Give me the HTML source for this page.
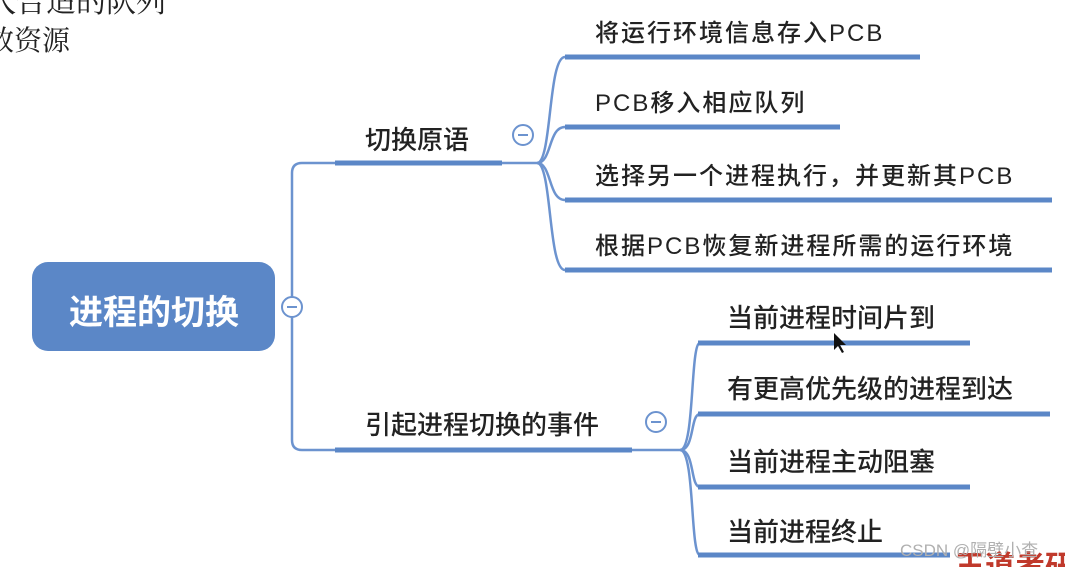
<!DOCTYPE html>
<html><head><meta charset="utf-8"><style>
html,body{margin:0;padding:0;background:#fff;}
svg{display:block;}
text{font-family:"Liberation Sans","Noto Sans CJK SC",sans-serif;}
</style></head><body>
<svg width="1065" height="567" viewBox="0 0 1065 567" xmlns="http://www.w3.org/2000/svg">
<rect width="1065" height="567" fill="#fff"/>
<text x="-14" y="12" font-size="30" fill="#222" style="font-family:'Noto Serif CJK SC',serif">入合适的队列</text>
<text x="-14" y="50" font-size="28" fill="#222" style="font-family:'Noto Serif CJK SC',serif">放资源</text>

<g fill="none" stroke="#6c93cf" stroke-width="2.5">
<path d="M300,307 H292"/>
<path d="M335,163 H302 Q292,163 292,173 V440 Q292,450 302,450 H335"/>
<path d="M502,163 H537"/>
<path d="M537,163 C552,163 548,57 565,57"/>
<path d="M537,163 C552,163 548,127 565,127"/>
<path d="M537,163 C552,163 548,200 565,200"/>
<path d="M537,163 C552,163 548,270 565,270"/>
<path d="M632,450 H680"/>
<path d="M680,450 C695,450 690,343 700,343"/>
<path d="M680,450 C695,450 690,414 700,414"/>
<path d="M680,450 C695,450 690,487 700,487"/>
<path d="M680,450 C695,450 690,555 700,555"/>
</g>
<g stroke="#5b87c7" stroke-width="5" fill="none">
<path d="M335,163 H502"/>
<path d="M335,450 H632"/>
<path d="M565,57 H920"/>
<path d="M565,127 H840"/>
<path d="M565,200 H1052"/>
<path d="M565,270 H1052"/>
<path d="M698,343 H970"/>
<path d="M698,414 H1050"/>
<path d="M698,487 H970"/>
<path d="M698,555 H950"/>
</g>

<rect x="32" y="262" width="243" height="89" rx="16" fill="#5b87c7"/>
<text x="154" y="324" font-size="34" font-weight="bold" fill="#fff" text-anchor="middle">进程的切换</text>

<g fill="#fff" stroke="#6c93cf" stroke-width="2">
<circle cx="292" cy="307" r="10"/>
<circle cx="523" cy="135" r="10"/>
<circle cx="656" cy="422" r="10"/>
</g>
<g stroke="#6c93cf" stroke-width="2">
<path d="M287,307 H297"/><path d="M518,135 H528"/><path d="M651,422 H661"/>
</g>

<g fill="#222" font-weight="500">
<text x="365" y="149" font-size="26">切换原语</text>
<text x="365" y="434" font-size="26">引起进程切换的事件</text>
<g font-size="24" letter-spacing="2">
<text x="595" y="41">将运行环境信息存入PCB</text>
<text x="595" y="111">PCB移入相应队列</text>
<text x="595" y="184">选择另一个进程执行，并更新其PCB</text>
<text x="595" y="254">根据PCB恢复新进程所需的运行环境</text>
</g>
<g font-size="26">
<text x="727" y="327">当前进程时间片到</text>
<text x="727" y="398">有更高优先级的进程到达</text>
<text x="727" y="471">当前进程主动阻塞</text>
<text x="727" y="541">当前进程终止</text>
</g>
</g>
<path d="M834,333 L834,350 L838,346 L842,353 L844,352 L840,345 L846,345 Z" fill="#111"/>
<text x="955" y="577" font-size="30" font-weight="bold" fill="#c0392b">王道考研</text>
<text x="900" y="556" font-size="17" fill="#b0b0b0">CSDN @隔壁小查</text>
</svg>
</body></html>
